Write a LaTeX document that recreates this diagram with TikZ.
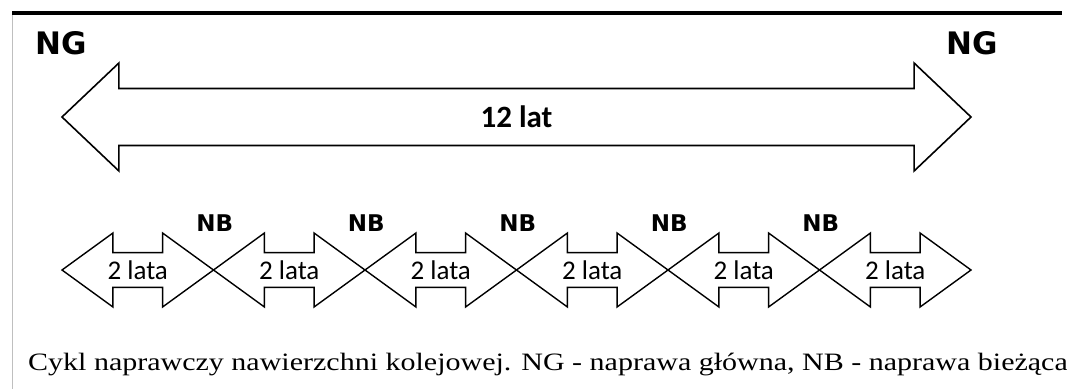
\documentclass[tikz,border=0pt]{standalone}
\usepackage{fontspec}
\setmainfont{Liberation Serif}
\newfontfamily\capfont[FakeStretch=1.2]{Liberation Serif}
\newfontfamily\ngfont{DejaVu Sans}
\newfontfamily\latfont{Carlito}
\usetikzlibrary{positioning}
\usetikzlibrary{shapes.arrows}

\begin{document}
\begin{tikzpicture}[x=1pt,y=1pt,node distance=151.5pt,semithick]
	\tikzstyle{cycle}=[double arrow,draw,line width=1.6pt,inner sep=0pt,
		text height=26pt,text depth=26pt,
		minimum height=909pt,minimum width=108pt,double arrow head extend=24pt,
		double arrow tip angle=87]
	\tikzstyle{period}=[double arrow,draw,line width=1.4pt,inner sep=0pt,
		text height=16pt,text depth=16pt,
		minimum height=151.5pt,minimum width=74pt,double arrow head extend=19pt,
		double arrow tip angle=72]
	\tikzstyle{years}=[inner sep=0pt,font=\latfont\fontsize{27}{27}\selectfont]
	\tikzstyle{repair}=[inner sep=0pt,font=\ngfont\bfseries\fontsize{23}{23}\selectfont]
	\tikzstyle{main}=[inner sep=0pt,font=\ngfont\bfseries\fontsize{31}{31}\selectfont]
	
	\useasboundingbox (0,0) rectangle (1067,389);
	\draw[black!25,line width=1pt] (12,376) -- (12,0);
	\draw[line width=3.5pt] (12,376) -- (1062,376);
	
	% full cycle
	\node[cycle]       (Cycle)    at (516.5,272)     {};
	\node[years,font=\latfont\bfseries\fontsize{31}{31}\selectfont] (L0) at (Cycle.center) {12 lat};
	\node[main]        (NGleft)   [above=62pt of Cycle.west, anchor=south]  {NG};
	\node[main]        (NGright)  [above=62pt of Cycle.east, anchor=south]  {NG};
	
	% two-year periods
	\node[period]      (P1)       at (137.75,119)    {};
	\node[period]      (P2)       [right of=P1]      {};
	\node[period]      (P3)       [right of=P2]      {};
	\node[period]      (P4)       [right of=P3]      {};
	\node[period]      (P5)       [right of=P4]      {};
	\node[period]      (P6)       [right of=P5]      {};
	
	\foreach \i in {1,...,6}
		\node[years] (L\i) at (P\i.center) {2 lata};
	
	\foreach \i in {1,...,5}
		\node[repair] (NB\i) [above=38pt of P\i.east, anchor=south] {NB};
	
	\node[inner sep=0pt,font=\capfont\fontsize{25}{25}\selectfont,anchor=base] (Caption) at (548,19)
		{Cykl naprawczy nawierzchni kolejowej. NG - naprawa główna, NB - naprawa bieżąca};
\end{tikzpicture}
\end{document}
